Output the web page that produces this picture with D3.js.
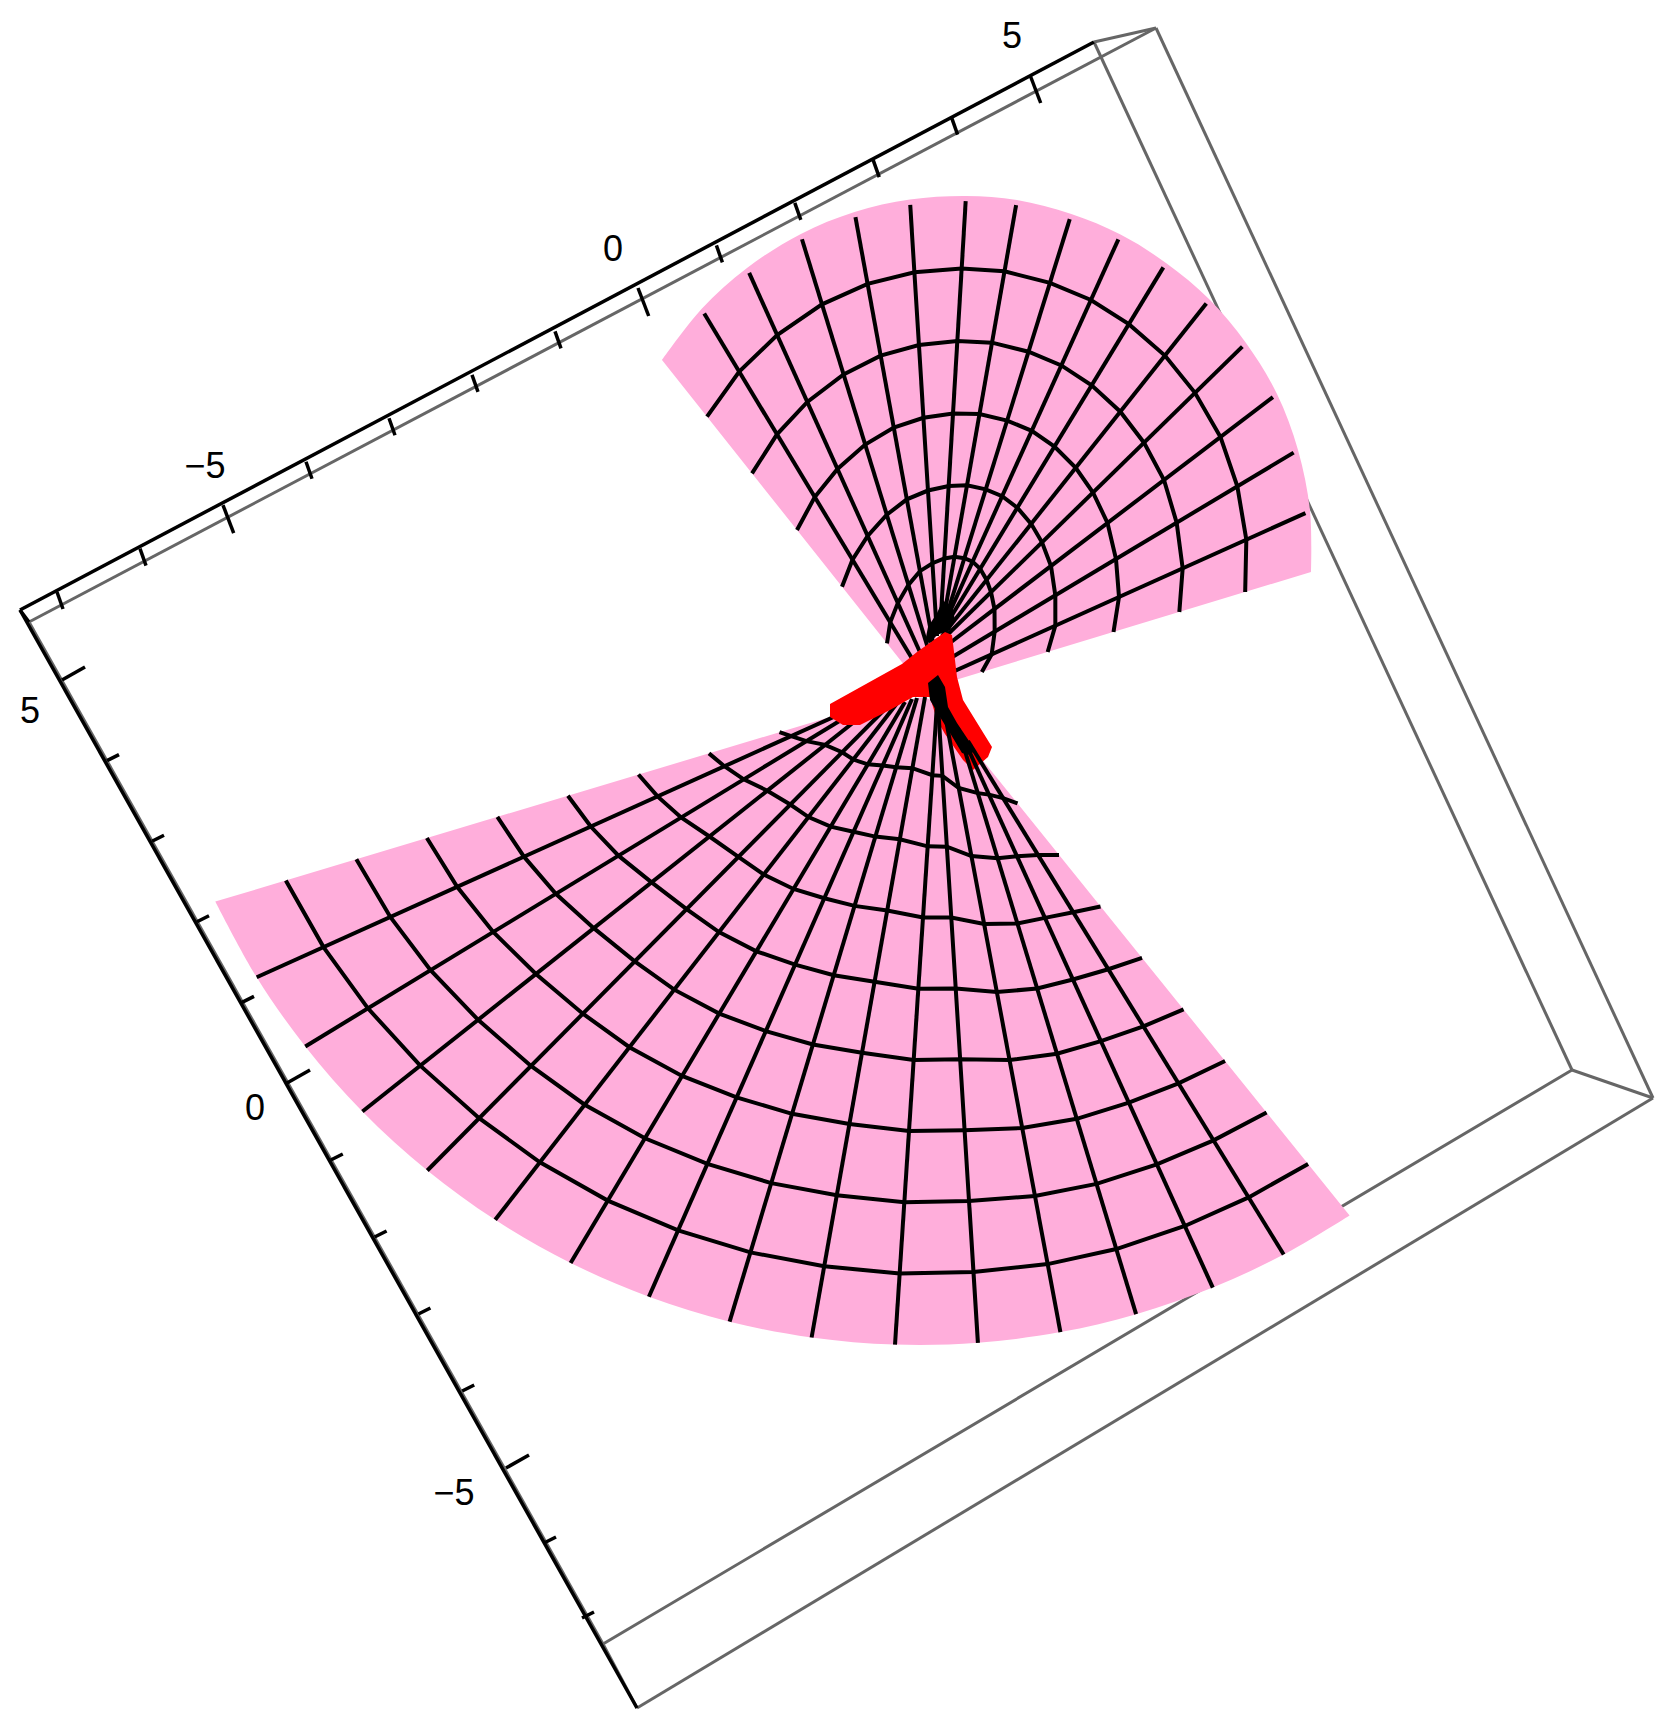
<!DOCTYPE html>
<html>
<head>
<meta charset="utf-8">
<style>
    html, body { margin: 0; padding: 0; background: #fff; }
    svg { display: block; }
    text { font-family: "Liberation Sans", sans-serif; }
</style>
<script src="https://cdn.jsdelivr.net/npm/d3@7"></script>
</head>
<body>
<div id="chart"></div>
<script>
// axis ticks, labelled values and where they sit on the projected sheet
var xTicks = [-7, -6, -5, -4, -3, -2, -1, 0, 1, 2, 3, 4, 5];
var xLabels = [-5, 0, 5];
var xAxisKnots = [-7, 0, 5];
var xAxisSheetX = [0.57, 6.38, 10.30];
var xAxisSheetY = [5.92, 2.88, 0.75];

var yTicks = [5, 4, 3, 2, 1, 0, -1, -2, -3, -4, -5, -6, -7];
var yLabels = [5, 0, -5];
var yAxisKnots = [5, 0, -5, -7];
var yAxisSheetX = [0.62, 2.87, 5.06, 5.82];
var yAxisSheetY = [6.80, 10.83, 14.68, 16.18];

// box corners on the sheet, and the edges joining them
var boxX = [0.20, 0.29, 10.94, 11.56, 15.72, 16.53, 6.03, 6.37];
var boxY = [6.10, 6.22, 0.42, 0.28, 10.70, 10.98, 16.44, 17.08];
var grayEdges = [[1, 3], [2, 3], [2, 4], [3, 5], [4, 5], [4, 6], [5, 7], [6, 1], [6, 7]];
var blackEdges = [[0, 1], [0, 2], [0, 7]];

// upper sheet of the surface
var upperOuterX = [6.62, 7.015, 7.47, 8.004, 8.545, 9.099, 9.66, 10.17, 10.713, 11.205, 11.66, 12.095, 12.46, 12.77, 12.98, 13.10, 13.11];
var upperOuterY = [3.60, 3.09, 2.68, 2.342, 2.12, 1.996, 1.96, 2.00, 2.141, 2.346, 2.63, 2.995, 3.43, 3.94, 4.50, 5.11, 5.72];
var upperBaseX = [9.32, 9.28, 9.28, 9.30, 9.33, 9.37, 9.40, 9.42, 9.43, 9.43, 9.43, 9.42, 9.40, 9.38, 9.34, 9.28, 9.16];
var upperBaseY = [7.00, 6.85, 6.70, 6.55, 6.43, 6.36, 6.31, 6.28, 6.27, 6.27, 6.30, 6.36, 6.42, 6.52, 6.68, 6.83, 6.92];
var upperRings = [1, 2, 3, 4, 5];
var upperSteps = 6;

// lower sheet
var lowerOuterX = [2.153, 2.567, 3.053, 3.624, 4.273, 4.952, 5.706, 6.489, 7.296, 8.116, 8.95, 9.779, 10.604, 11.361, 12.128, 12.837, 13.496];
var lowerOuterY = [9.016, 9.772, 10.465, 11.115, 11.705, 12.198, 12.629, 12.967, 13.217, 13.375, 13.446, 13.428, 13.321, 13.142, 12.876, 12.545, 12.154];
var lowerBaseX = [8.50, 8.58, 8.69, 8.83, 8.94, 8.98, 9.05, 9.12, 9.17, 9.25, 9.37, 9.38, 9.46, 9.58, 9.61, 9.68, 9.76];
var lowerBaseY = [7.11, 7.06, 7.03, 6.99, 7.00, 7.02, 7.02, 6.99, 6.98, 6.97, 7.04, 7.05, 7.20, 7.28, 7.33, 7.41, 7.52];
var lowerRings = [1, 2, 3, 4, 5, 6, 7, 8];
var lowerSteps = 9;

// red singular curve, as an outline
var redX = [8.30, 8.30, 8.43, 8.60, 8.90, 9.13, 9.30, 9.37, 9.45, 9.63, 9.73, 9.88, 9.92, 9.63, 9.57, 9.52, 9.45, 9.17, 9.02];
var redY = [7.04, 7.17, 7.25, 7.25, 7.10, 6.97, 6.97, 7.20, 7.34, 7.60, 7.70, 7.57, 7.47, 7.00, 6.77, 6.35, 6.32, 6.52, 6.64];

// where the mesh lines pile up into solid black
var upperKnotX = [9.28, 9.37, 9.43, 9.53, 9.55, 9.50, 9.37, 9.30, 9.25];
var upperKnotY = [6.27, 6.13, 6.00, 6.10, 6.20, 6.30, 6.35, 6.43, 6.42];
var lowerKnotX = [9.28, 9.38, 9.45, 9.48, 9.57, 9.75, 9.70, 9.62, 9.50, 9.40, 9.30];
var lowerKnotY = [6.83, 6.75, 6.87, 7.07, 7.23, 7.50, 7.55, 7.53, 7.33, 7.17, 7.00];

var w = 1666, h = 1724;
var sheetX = d3.scaleLinear().domain([0, 16.66]).range([0, w]);
var sheetY = d3.scaleLinear().domain([0, 17.24]).range([0, h]);

var xAxisPx = d3.scaleLinear().domain(xAxisKnots).range(xAxisSheetX.map(sheetX));
var xAxisPy = d3.scaleLinear().domain(xAxisKnots).range(xAxisSheetY.map(sheetY));
var yAxisPx = d3.scaleLinear().domain(yAxisKnots).range(yAxisSheetX.map(sheetX));
var yAxisPy = d3.scaleLinear().domain(yAxisKnots).range(yAxisSheetY.map(sheetY));

var svg = d3.select("#chart").append("svg")
    .attr("width", w)
    .attr("height", h);

var line = d3.line();
var smooth = d3.line().curve(d3.curveCatmullRom);
var pink = "#ffaedb";
var black = "#000";
var gray = "#666";
var meshWidth = 4;

function drawEdges(edges, color, width) {
    svg.append("g").selectAll("line").data(edges).enter().append("line")
        .attr("x1", (e) => sheetX(boxX[e[0]]))
        .attr("y1", (e) => sheetY(boxY[e[0]]))
        .attr("x2", (e) => sheetX(boxX[e[1]]))
        .attr("y2", (e) => sheetY(boxY[e[1]]))
        .attr("stroke", color)
        .attr("stroke-width", width);
}

function meshPoint(fan, i, t) {
    var bx = sheetX(fan.baseX[i]), by = sheetY(fan.baseY[i]);
    var ox = sheetX(fan.outerX[i]), oy = sheetY(fan.outerY[i]);
    return [bx + (ox - bx) * t, by + (oy - by) * t];
}

function drawPatch(fan) {
    var outer = fan.outerX.map((d, i) => meshPoint(fan, i, 1));
    var inner = fan.baseX.map((d, i) => meshPoint(fan, i, 0)).reverse();
    svg.append("path")
        .attr("d", smooth(outer) + line(inner).replace("M", "L") + "Z")
        .attr("fill", pink);
}

function drawRings(fan) {
    var ids = d3.range(fan.outerX.length);
    svg.append("g").selectAll("path").data(fan.rings).enter().append("path")
        .attr("d", (k) => line(ids.map((i) => meshPoint(fan, i, k / fan.steps))))
        .attr("fill", "none")
        .attr("stroke", black)
        .attr("stroke-width", meshWidth);
}

function drawRays(fan, from, to) {
    svg.append("g").selectAll("path").data(d3.range(from, to)).enter().append("path")
        .attr("d", (i) => line([meshPoint(fan, i, 0), meshPoint(fan, i, fan.rayEnd)]))
        .attr("fill", "none")
        .attr("stroke", black)
        .attr("stroke-width", meshWidth);
}

function drawOutline(xs, ys, color) {
    svg.append("path")
        .attr("d", line(xs.map((d, i) => [sheetX(d), sheetY(ys[i])])) + "Z")
        .attr("fill", color);
}

var upperFan = { outerX: upperOuterX, outerY: upperOuterY, baseX: upperBaseX, baseY: upperBaseY, rings: upperRings, steps: upperSteps, rayEnd: 0.988 };
var lowerFan = { outerX: lowerOuterX, outerY: lowerOuterY, baseX: lowerBaseX, baseY: lowerBaseY, rings: lowerRings, steps: lowerSteps, rayEnd: 1 };

drawEdges(grayEdges, gray, 3);
drawPatch(upperFan);
drawPatch(lowerFan);
drawRings(upperFan);
drawRays(upperFan, 1, 16);
drawRings(lowerFan);
drawRays(lowerFan, 1, 9);

drawOutline(redX, redY, "#ff0000");

// these run in front of the red curve
drawRays(lowerFan, 9, 16);
drawOutline(upperKnotX, upperKnotY, black);
drawOutline(lowerKnotX, lowerKnotY, black);

drawEdges(blackEdges, black, 3.5);

// tick marks
var axisTicks = svg.append("g")
    .attr("stroke", black)
    .attr("stroke-width", 3.5);

xTicks.forEach((t) => {
    var major = xLabels.indexOf(t) >= 0;
    axisTicks.append("line")
        .attr("x1", xAxisPx(t))
        .attr("y1", xAxisPy(t))
        .attr("x2", xAxisPx(t) + (major ? 10.7 : 6))
        .attr("y2", xAxisPy(t) + (major ? 28 : 17));
});

yTicks.forEach((t) => {
    var major = yLabels.indexOf(t) >= 0;
    axisTicks.append("line")
        .attr("x1", yAxisPx(t))
        .attr("y1", yAxisPy(t))
        .attr("x2", yAxisPx(t) + (major ? 23 : 12))
        .attr("y2", yAxisPy(t) + (major ? -13 : -6));
});

// labels
function fmt(v) {
    return v < 0 ? "\u2212" + Math.abs(v) : String(v);
}

function drawLabel(v, x, y) {
    svg.append("text")
        .attr("x", x)
        .attr("y", y)
        .attr("text-anchor", "middle")
        .attr("dominant-baseline", "central")
        .attr("font-size", 36)
        .attr("fill", black)
        .text(fmt(v));
}

xLabels.forEach((v) => drawLabel(v, xAxisPx(v) - (v == 0 ? 25 : 18), xAxisPy(v) - 40));
yLabels.forEach((v) => drawLabel(v, yAxisPx(v) - 32 - (v < 0 ? 20 : 0), yAxisPy(v) + (v > 0 ? 30 : 24)));
</script>
</body>
</html>
